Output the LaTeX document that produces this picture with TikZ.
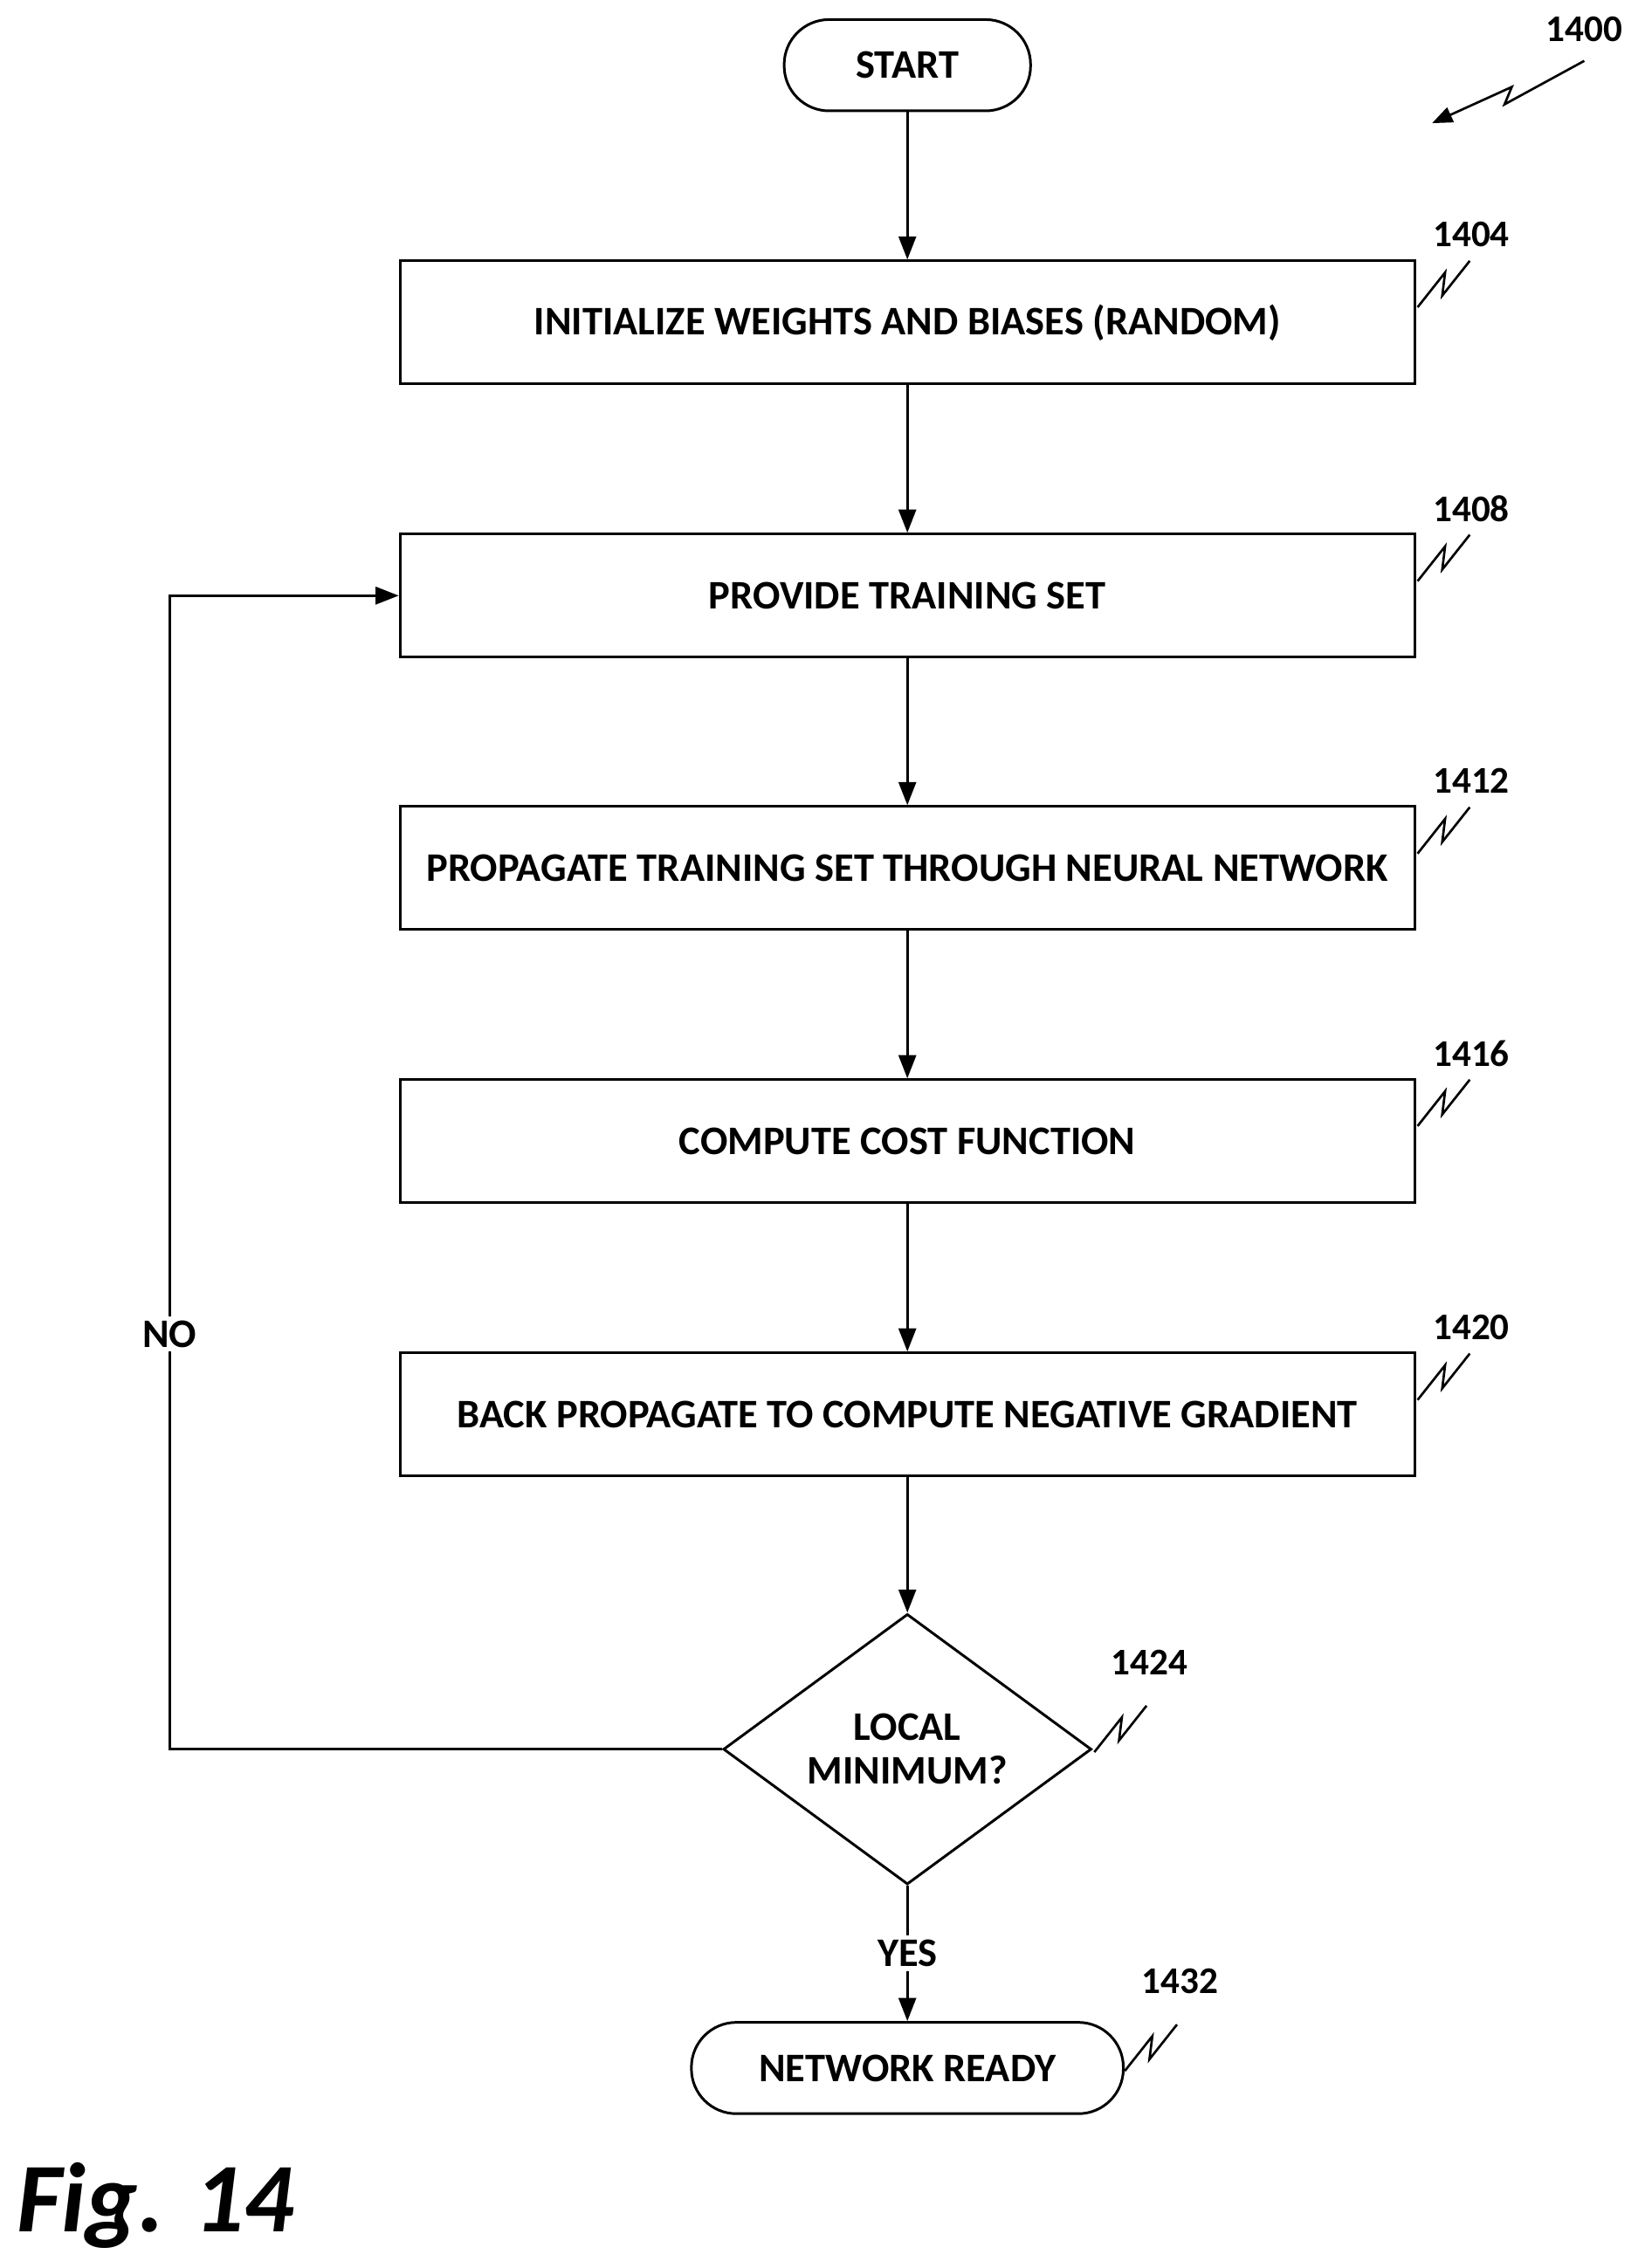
\documentclass[tikz,border=0pt]{standalone}
\usepackage{fontspec}
\setmainfont{Carlito}
\usetikzlibrary{shapes.geometric,arrows.meta}
\begin{document}
\begin{tikzpicture}[x=1pt,y=-1pt,
  every node/.style={font=\fontsize{28}{32}\selectfont\bfseries},
  box/.style={draw,line width=1.8pt,minimum width=700pt,minimum height=85pt,inner sep=0pt},
  pill/.style={draw,line width=1.8pt,rounded corners=31pt,minimum height=63pt,inner sep=0pt},
  arr/.style={line width=1.8pt,-{Triangle[length=16pt,width=12pt]}},
  sq/.style={line width=1.6pt},
  ref/.style={font=\fontsize{26}{30}\selectfont\bfseries}]
\useasboundingbox (0,0) rectangle (1130,1565);
\node[pill,minimum width=170pt] (start) at (626,45) {START};
\node[box] (b1) at (626,222.5) {INITIALIZE WEIGHTS AND BIASES (RANDOM)};
\node[box] (b2) at (626,411) {PROVIDE TRAINING SET};
\node[box] (b3) at (626,599) {PROPAGATE TRAINING SET THROUGH NEURAL NETWORK};
\node[box] (b4) at (626,787.5) {COMPUTE COST FUNCTION};
\node[box] (b5) at (626,976) {BACK PROPAGATE TO COMPUTE NEGATIVE GRADIENT};
\node[diamond,draw,line width=1.8pt,minimum width=254pt,minimum height=170pt,inner sep=0pt,align=center] (d) at (626,1207) {LOCAL\\[-2pt]MINIMUM?};
\node[pill,minimum width=298pt] (end) at (626,1427) {NETWORK READY};
\draw[arr] (start) -- (b1);
\draw[arr] (b1) -- (b2);
\draw[arr] (b2) -- (b3);
\draw[arr] (b3) -- (b4);
\draw[arr] (b4) -- (b5);
\draw[arr] (b5) -- (d);
\draw[arr] (d) -- node[fill=white,inner sep=3pt] {YES} (end);
\coordinate (c1) at (117,1207);
\coordinate (c2) at (117,411);
\draw[arr] (d.west) -- (c1) -- node[pos=0.36,fill=white,inner sep=3pt] {NO} (c2) -- (b2.west);
% reference labels
\foreach \y/\t in {180/1404,369/1408,557/1412,745/1416,934/1420}{
  \node[ref] at (1015,\y-18) {\t};
  \draw[sq] (978,\y+32) -- (997,\y+8) -- (995,\y+24) -- (1014,\y);
}
\node[ref] (r1424) at (793,1147) {1424};
\draw[sq] (755,1209) -- (774,1185) -- (772,1201) -- (791,1177);
\node[ref] (r1432) at (814,1367) {1432};
\draw[sq] (776,1429) -- (795,1405) -- (793,1421) -- (812,1397);
\node[ref] (r1400) at (1093,20) {1400};
\coordinate (a1) at (988,85);
\draw[line width=1.6pt,-{Triangle[length=14pt,width=11pt]}] (1093,42) -- (1038,72) -- (1043,60) -- (a1);
\node[font=\fontsize{68}{70}\selectfont\bfseries\itshape,anchor=west] (fig) at (8,1522) {Fig. 14};
\end{tikzpicture}
\end{document}
